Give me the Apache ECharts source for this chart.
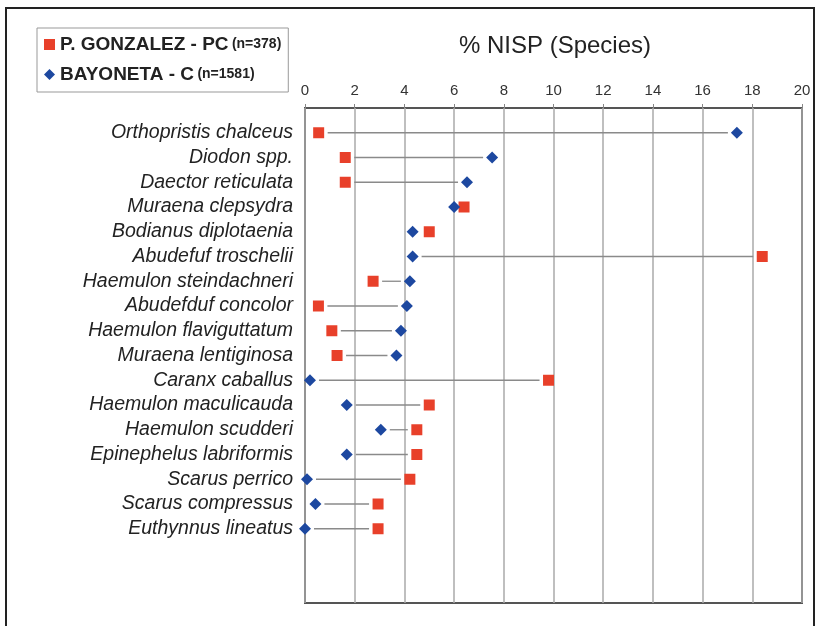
<!DOCTYPE html>
<html>
<head>
<meta charset="utf-8">
<script src="https://cdn.jsdelivr.net/npm/echarts@6/dist/echarts.min.js"></script>
<style>
html,body{margin:0;padding:0;background:#fff;}
#c{width:823px;height:626px;}
</style>
</head>
<body>
<div id="c"></div>
<script>
// ---- data ----
const species = [
  'Orthopristis chalceus','Diodon spp.','Daector reticulata','Muraena clepsydra',
  'Bodianus diplotaenia','Abudefuf troschelii','Haemulon steindachneri','Abudefduf concolor',
  'Haemulon flaviguttatum','Muraena lentiginosa','Caranx caballus','Haemulon maculicauda',
  'Haemulon scudderi','Epinephelus labriformis','Scarus perrico','Scarus compressus',
  'Euthynnus lineatus'
];
const gonzalezPC = [0.55,1.62,1.62,6.4,5.0,18.4,2.74,0.54,1.08,1.29,9.8,5.0,4.5,4.5,4.22,2.94,2.94];
const bayonetaC  = [17.38,7.53,6.52,6.0,4.33,4.33,4.22,4.1,3.86,3.68,0.2,1.68,3.05,1.68,0.08,0.42,0.0];
const xTicks = [0,2,4,6,8,10,12,14,16,18,20];
const seriesNames = ['P. GONZALEZ - PC','BAYONETA - C'];
const seriesN = ['(n=378)','(n=1581)'];

// category axis with blank padding slots
const cats = [''].concat(species, ['', '', '']);

const FONT = '"Liberation Sans", Arial, Helvetica, sans-serif';
const chart = echarts.init(document.getElementById('c'), null, {renderer:'canvas'});

const option = {
  backgroundColor: '#ffffff',
  animation: false,
  textStyle: {fontFamily: FONT},
  graphic: [
    {type:'rect', shape:{x:6, y:8, width:808, height:640}, style:{fill:'none', stroke:'#222', lineWidth:2}, z:0},
    {type:'text', x:555, y:46, style:{text:'% NISP (Species)', fontSize:24, fontFamily:FONT, fill:'#222', textAlign:'center', textVerticalAlign:'middle'}}
  ],
  legend: {
    orient: 'vertical',
    left: 37, top: 28,
    borderColor: '#999', borderWidth: 1,
    padding: [7, 7, 8, 7],
    itemGap: 11,
    itemWidth: 11, itemHeight: 11,
    data: [
      {name: seriesNames[0], icon: 'rect'},
      {name: seriesNames[1], icon: 'diamond'}
    ],
    formatter: function(n){ const i = seriesNames.indexOf(n); return '{a|' + n + '} {b|' + seriesN[i] + '}'; },
    textStyle: {
      rich: {
        a: {fontSize:19, fontWeight:'bold', color:'#222', fontFamily:FONT},
        b: {fontSize:14, fontWeight:'bold', color:'#222', fontFamily:FONT}
      }
    }
  },
  grid: {left:305, right:21, top:108, bottom:23, show:true, borderColor:'#555', borderWidth:2, containLabel:false},
  xAxis: {
    type:'value', position:'top', min:0, max:20, interval:2,
    axisLine:{show:false},
    axisTick:{show:true, length:4, lineStyle:{color:'#888'}},
    axisLabel:{fontSize:15, color:'#333', margin:10, fontFamily:FONT,
      formatter: function(v){ return xTicks.indexOf(v) >= 0 ? String(v) : ''; }},
    splitLine:{show:true, lineStyle:{color:'#aaa', width:1.5}}
  },
  yAxis: {
    type:'category', data:cats, inverse:true, boundaryGap:false,
    axisLine:{show:false}, axisTick:{show:false},
    axisLabel:{interval:0, fontSize:19.5, fontStyle:'italic', color:'#222', margin:12, fontFamily:FONT},
    splitLine:{show:false}
  },
  series: [
    {
      type:'custom', name:'link', silent:true, z:1,
      data: species.map((s,i)=>[gonzalezPC[i], bayonetaC[i], i+1]),
      renderItem: function(params, api){
        const a = api.value(0), b = api.value(1), c = api.value(2);
        const p1 = api.coord([Math.min(a,b), c]);
        const p2 = api.coord([Math.max(a,b), c]);
        const gap = 9;
        if (p2[0] - p1[0] <= 2*gap + 2) return null;
        return {type:'line', shape:{x1:p1[0]+gap, y1:p1[1], x2:p2[0]-gap, y2:p2[1]},
          style:{stroke:'#8a8a8a', lineWidth:1.3}};
      }
    },
    {
      type:'scatter', name:seriesNames[0], symbol:'rect', symbolSize:11, z:3,
      itemStyle:{color:'#e8402a', opacity:1},
      data: species.map((s,i)=>[gonzalezPC[i], s])
    },
    {
      type:'scatter', name:seriesNames[1], symbol:'diamond', symbolSize:12, z:4,
      itemStyle:{color:'#1d48a0', opacity:1},
      data: species.map((s,i)=>[bayonetaC[i], s])
    }
  ]
};
chart.setOption(option);
</script>
</body>
</html>
